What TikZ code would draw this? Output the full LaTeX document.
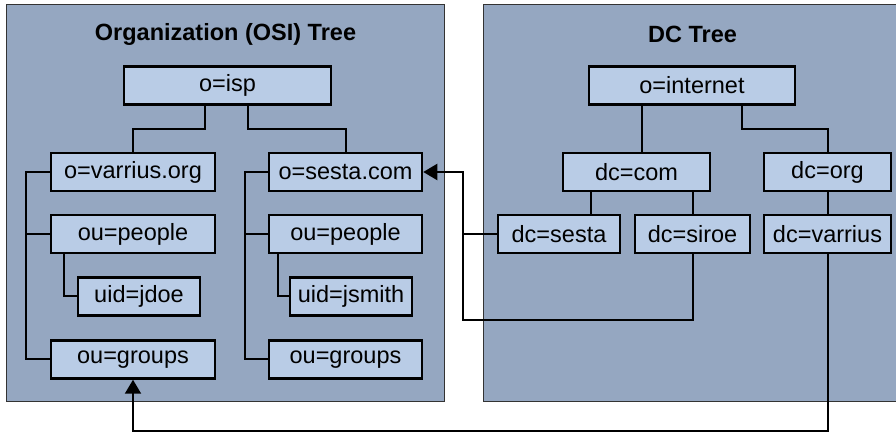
\documentclass[tikz,border=0pt]{standalone}
\usepackage{fontspec}
\setmainfont{Liberation Sans}
\usetikzlibrary{arrows.meta}

\tikzset{
  panel/.style={fill=panelblue,draw=black!80,line width=0.5pt},
  entry/.style={draw=black,fill=entryblue,line width=1.25pt,minimum height=19pt,
    inner sep=0pt,font=\fontsize{11.75}{14}\selectfont},
  title/.style={font=\fontsize{11.75}{14}\selectfont\bfseries},
  branch/.style={draw=black,line width=1pt},
  link/.style={branch,-{Triangle[length=7pt,width=8pt]}}
}

\begin{document}
\begin{tikzpicture}[x=0.5pt,y=-0.5pt]
% Panel colours taken from the figure
\colorlet{panelblue}{rgb,255:red,149;green,167;blue,193}
\colorlet{entryblue}{rgb,255:red,185;green,204;blue,230}
\useasboundingbox (0,0) rectangle (896,432);
\clip (0,0) rectangle (896,432);
% The two trees
\draw[panel] (6,5) rectangle (444,402);
\draw[panel] (483,5) rectangle (920,402);
\node[title] (osititle) at (225.5,34) {Organization (OSI) Tree};
\node[title] (dctitle) at (692.5,34) {DC Tree};
% Organization tree entries
\node[entry,minimum width=103.5pt] (isp) at (227.5,85.5) {o=isp};
\node[entry,minimum width=82pt] (varriusorg) at (133,172) {o=varrius.org};
\node[entry,minimum width=76.5pt] (sestacom) at (345.5,172) {o=sesta.com};
\node[entry,minimum width=82pt] (people1) at (133,234) {ou=people};
\node[entry,minimum width=61pt] (jdoe) at (139,296.5) {uid=jdoe};
\node[entry,minimum width=82pt] (groups1) at (133,359.5) {ou=groups};
\node[entry,minimum width=76.5pt] (people2) at (345.5,234) {ou=people};
\node[entry,minimum width=61pt] (jsmith) at (351,296.5) {uid=jsmith};
\node[entry,minimum width=76.5pt] (groups2) at (345.5,359.5) {ou=groups};
% DC tree entries
\node[entry,minimum width=103pt] (internet) at (692,85.5) {o=internet};
\node[entry,minimum width=73.5pt] (dccom) at (636.5,172) {dc=com};
\node[entry,minimum width=63.5pt] (dcorg) at (827.5,172) {dc=org};
\node[entry,minimum width=61pt] (dcsesta) at (559,234) {dc=sesta};
\node[entry,minimum width=57.5pt] (dcsiroe) at (692.5,234) {dc=siroe};
\node[entry,minimum width=63.5pt] (dcvarrius) at (827.5,234) {dc=varrius};
% Organization tree branches
\draw[branch] ([xshift=-11.25pt]isp.south) -- ++(0,23) -| (varriusorg.north);
\draw[branch] ([xshift=10.25pt]isp.south) -- ++(0,23) -| (sestacom.north);
\draw[branch] (varriusorg.west) -- ++(-24,0) |- (groups1.west);
\draw[branch] (people1.west) -- ++(-24,0);
\draw[branch] ([xshift=-34.5pt]people1.south) |- (jdoe.west);
\draw[branch] (sestacom.west) -- ++(-23,0) |- (groups2.west);
\draw[branch] (people2.west) -- ++(-23,0);
\draw[branch] ([xshift=-33.75pt]people2.south) |- (jsmith.west);
% DC tree branches
\draw[branch] ([xshift=-25pt]internet.south) -- ([xshift=-25pt]internet.south |- dccom.north);
\draw[branch] ([xshift=25pt]internet.south) -- ++(0,23) -| (dcorg.north);
\draw[branch] ([xshift=-22.75pt]dccom.south) -- ([xshift=-22.75pt]dccom.south |- dcsesta.north);
\draw[branch] (dcsiroe.north) -- (dcsiroe.north |- dccom.south);
\draw[branch] (dcorg.south) -- (dcvarrius.north);
% Links from the DC tree back to the organizations
\draw[branch] (dcsesta.west) -- ++(-34,0);
\draw[link] (dcsiroe.south) -- ++(0,66) -| ([xshift=-17pt]dcsesta.west) |- (sestacom.east);
\draw[link] (dcvarrius.south) -- ++(0,177) -| (groups1.south);
\end{tikzpicture}
\end{document}
